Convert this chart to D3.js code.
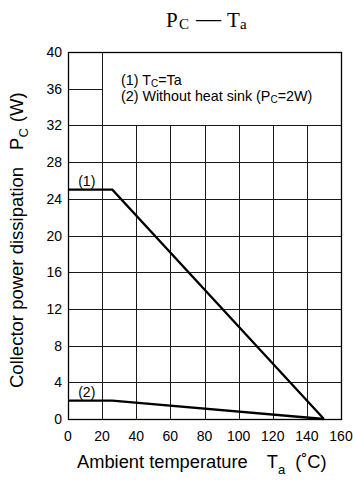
<!DOCTYPE html>
<html lang="en">
<head>
  <meta charset="UTF-8" />
  <title>Pc - Ta</title>
  <script src="https://d3js.org/d3.v7.min.js"></script>
  <style>
    body { margin: 0; background: #fff; }
    svg { display: block; }
  </style>
</head>
<body>
  <svg width="353" height="480"></svg>
  <script>
    // data
    const xTicks = [0, 20, 40, 60, 80, 100, 120, 140, 160];
    const yTicks = [0, 4, 8, 12, 16, 20, 24, 28, 32, 36, 40];
    const curve1Ta = [0, 26, 150];
    const curve1Pc = [25, 25, 0];
    const curve2Ta = [0, 26, 150];
    const curve2Pc = [2, 2, 0];

    const svg = d3.select("svg");
    const font = "'Liberation Sans', Arial, sans-serif";
    const serif = "'Liberation Serif', 'Times New Roman', serif";
    const plotL = 68, plotR = 341, plotT = 52, plotB = 419;

    const x = d3.scaleLinear().domain([0, 160]).range([plotL, plotR]);
    const y = d3.scaleLinear().domain([0, 40]).range([plotB, plotT]);

    // grid
    const g = svg.append("g");
    g.selectAll("line.vx").data(xTicks).enter().append("line")
      .attr("x1", d => Math.round(x(d)) + 0.5).attr("x2", d => Math.round(x(d)) + 0.5)
      .attr("y1", plotT).attr("y2", plotB)
      .attr("stroke", "#1a1a1a").attr("stroke-width", 1);
    g.selectAll("line.hy").data(yTicks).enter().append("line")
      .attr("y1", d => Math.round(y(d)) + 0.5).attr("y2", d => Math.round(y(d)) + 0.5)
      .attr("x1", plotL).attr("x2", plotR)
      .attr("stroke", "#1a1a1a").attr("stroke-width", 1);

    // legend box covers the grid (20..160, 32..40)
    svg.append("rect")
      .attr("x", Math.round(x(20)) + 0.5).attr("y", Math.round(y(40)) + 0.5)
      .attr("width", Math.round(x(160)) - Math.round(x(20)))
      .attr("height", Math.round(y(32)) - Math.round(y(40)))
      .attr("fill", "#fff").attr("stroke", "#1a1a1a");

    // frame
    svg.append("rect")
      .attr("x", plotL + 0.5).attr("y", plotT + 0.5)
      .attr("width", plotR - plotL).attr("height", plotB - plotT)
      .attr("fill", "none").attr("stroke", "#000").attr("stroke-width", 1.3);

    // curves
    const line = d3.line().x(d => x(d[0])).y(d => y(d[1]));
    [[curve1Ta, curve1Pc], [curve2Ta, curve2Pc]].forEach(([ta, pc]) => {
      svg.append("path")
        .datum(ta.map((t, i) => [t, pc[i]]))
        .attr("d", line)
        .attr("fill", "none").attr("stroke", "#000").attr("stroke-width", 2.3);
    });

    svg.append("text").attr("x", x(11)).attr("y", y(25) - 4)
      .attr("text-anchor", "middle").attr("font-family", font).attr("font-size", 14)
      .text("(1)");
    svg.append("text").attr("x", x(11)).attr("y", y(2) - 4)
      .attr("text-anchor", "middle").attr("font-family", font).attr("font-size", 14)
      .text("(2)");

    // tick labels
    svg.selectAll("text.xt").data(xTicks).enter().append("text")
      .attr("x", d => x(d)).attr("y", plotB + 22)
      .attr("text-anchor", "middle").attr("font-family", font).attr("font-size", 14)
      .text(d => d);
    svg.selectAll("text.yt").data(yTicks).enter().append("text")
      .attr("x", plotL - 6).attr("y", d => y(d) + 5)
      .attr("text-anchor", "end").attr("font-family", font).attr("font-size", 14)
      .text(d => d);

    // legend text
    const lg = svg.append("text").attr("font-family", font).attr("font-size", 14.3)
      .attr("x", 121).attr("y", 85);
    lg.append("tspan").text("(1) T");
    lg.append("tspan").attr("font-size", 10).attr("dy", 2).text("C");
    lg.append("tspan").attr("dy", -2).text("=Ta");
    const lg2 = svg.append("text").attr("font-family", font).attr("font-size", 14.3)
      .attr("x", 121).attr("y", 101);
    lg2.append("tspan").text("(2) Without heat sink (P");
    lg2.append("tspan").attr("font-size", 10).attr("dy", 2).text("C");
    lg2.append("tspan").attr("dy", -2).text("=2W)");

    // title
    const t = svg.append("text").attr("y", 27).attr("font-family", serif).attr("font-size", 21);
    t.append("tspan").attr("x", 166).text("P");
    t.append("tspan").attr("x", 179).attr("font-size", 15).attr("dy", 2).text("C");
    t.append("tspan").attr("x", 196).attr("font-size", 25).attr("dy", -2).text("\u2014");
    t.append("tspan").attr("x", 227).text("T");
    t.append("tspan").attr("x", 240).attr("font-size", 15).attr("dy", 2).text("a");

    // x axis title
    const xl = svg.append("text").attr("x", 77).attr("y", 468)
      .attr("font-family", font).attr("font-size", 18.3);
    xl.append("tspan").text("Ambient temperature");
    xl.append("tspan").attr("dx", 19).text("T");
    xl.append("tspan").attr("font-size", 13).attr("dy", 6).text("a");
    xl.append("tspan").attr("dx", 10).attr("dy", -6).text("(\u02DAC)");

    // y axis title
    const yl = svg.append("text")
      .attr("transform", "translate(23,388) rotate(-90)")
      .attr("font-family", font).attr("font-size", 18.5);
    yl.append("tspan").text("Collector power dissipation");
    yl.append("tspan").attr("dx", 17).text("P");
    yl.append("tspan").attr("font-size", 13).attr("dy", 5).text("C");
    yl.append("tspan").attr("dx", 6).attr("dy", -5).text("(W)");
  </script>
</body>
</html>
